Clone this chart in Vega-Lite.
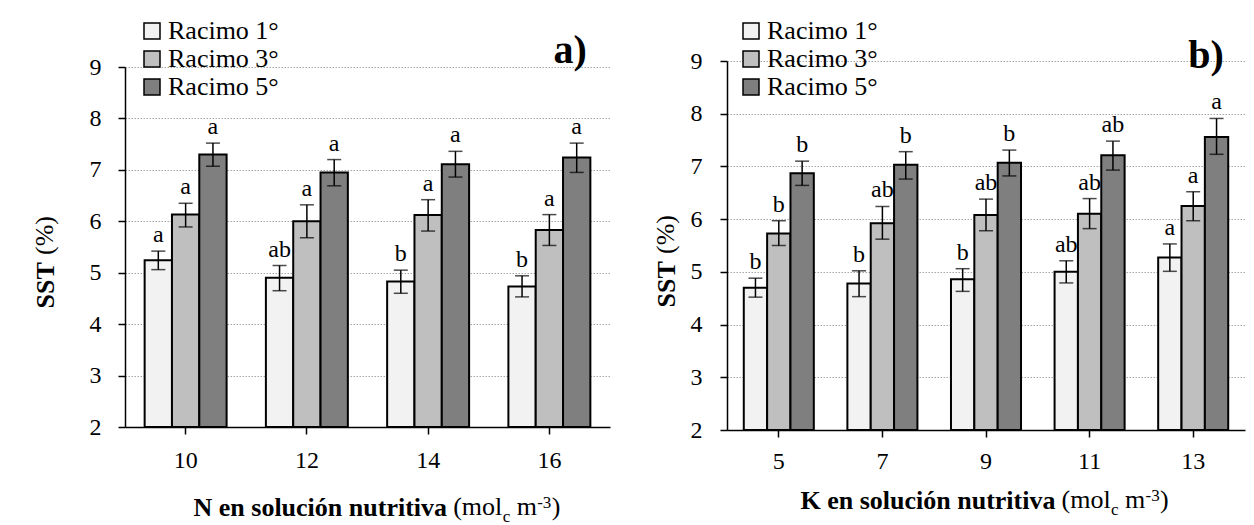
{
  "$schema": "https://vega.github.io/schema/vega-lite/v6.json",
  "background": "white",
  "padding": {"left": 31, "top": 18, "right": 5, "bottom": 0},
  "spacing": 42,
  "config": {
    "font": "Liberation Serif",
    "view": {"stroke": null},
    "axis": {"labelColor": "#000", "titleColor": "#000", "domainColor": "#000", "tickColor": "#000", "labelFontSize": 24, "titleFontSize": 26, "titleFontWeight": "bold", "tickSize": 7, "tickWidth": 1.5, "domainWidth": 1.5, "labelFont": "Liberation Serif", "titleFont": "Liberation Serif"},
    "legend": {"orient": "none", "labelFont": "Liberation Serif", "labelFontSize": 26, "labelColor": "#000", "symbolType": "square", "symbolSize": 256, "symbolStrokeColor": "#000", "symbolStrokeWidth": 1.5, "symbolOpacity": 1, "labelOffset": 3, "rowPadding": 2, "padding": 0, "labelLimit": 300}
  },
  "resolve": {"scale": {"x": "independent", "y": "independent", "fill": "independent", "xOffset": "independent"}},
  "datasets": {
    "a": [
      {"N": "10", "racimo": "Racimo 1°", "sst": 5.24, "lo": 5.06, "hi": 5.42, "letra": "a"},
      {"N": "10", "racimo": "Racimo 3°", "sst": 6.13, "lo": 5.89, "hi": 6.35, "letra": "a"},
      {"N": "10", "racimo": "Racimo 5°", "sst": 7.30, "lo": 7.07, "hi": 7.52, "letra": "a"},
      {"N": "12", "racimo": "Racimo 1°", "sst": 4.90, "lo": 4.65, "hi": 5.14, "letra": "ab"},
      {"N": "12", "racimo": "Racimo 3°", "sst": 6.00, "lo": 5.68, "hi": 6.32, "letra": "a"},
      {"N": "12", "racimo": "Racimo 5°", "sst": 6.95, "lo": 6.69, "hi": 7.20, "letra": "a"},
      {"N": "14", "racimo": "Racimo 1°", "sst": 4.83, "lo": 4.60, "hi": 5.05, "letra": "b"},
      {"N": "14", "racimo": "Racimo 3°", "sst": 6.12, "lo": 5.81, "hi": 6.42, "letra": "a"},
      {"N": "14", "racimo": "Racimo 5°", "sst": 7.11, "lo": 6.86, "hi": 7.36, "letra": "a"},
      {"N": "16", "racimo": "Racimo 1°", "sst": 4.73, "lo": 4.53, "hi": 4.94, "letra": "b"},
      {"N": "16", "racimo": "Racimo 3°", "sst": 5.83, "lo": 5.53, "hi": 6.13, "letra": "a"},
      {"N": "16", "racimo": "Racimo 5°", "sst": 7.24, "lo": 6.95, "hi": 7.52, "letra": "a"}
    ],
    "b": [
      {"K": "5", "racimo": "Racimo 1°", "sst": 4.70, "lo": 4.52, "hi": 4.88, "letra": "b"},
      {"K": "5", "racimo": "Racimo 3°", "sst": 5.73, "lo": 5.50, "hi": 5.97, "letra": "b"},
      {"K": "5", "racimo": "Racimo 5°", "sst": 6.87, "lo": 6.64, "hi": 7.10, "letra": "b"},
      {"K": "7", "racimo": "Racimo 1°", "sst": 4.78, "lo": 4.53, "hi": 5.02, "letra": "b"},
      {"K": "7", "racimo": "Racimo 3°", "sst": 5.92, "lo": 5.62, "hi": 6.24, "letra": "ab"},
      {"K": "7", "racimo": "Racimo 5°", "sst": 7.03, "lo": 6.76, "hi": 7.28, "letra": "b"},
      {"K": "9", "racimo": "Racimo 1°", "sst": 4.86, "lo": 4.63, "hi": 5.06, "letra": "b"},
      {"K": "9", "racimo": "Racimo 3°", "sst": 6.08, "lo": 5.78, "hi": 6.38, "letra": "ab"},
      {"K": "9", "racimo": "Racimo 5°", "sst": 7.07, "lo": 6.82, "hi": 7.31, "letra": "b"},
      {"K": "11", "racimo": "Racimo 1°", "sst": 5.00, "lo": 4.79, "hi": 5.21, "letra": "ab"},
      {"K": "11", "racimo": "Racimo 3°", "sst": 6.10, "lo": 5.82, "hi": 6.39, "letra": "ab"},
      {"K": "11", "racimo": "Racimo 5°", "sst": 7.21, "lo": 6.93, "hi": 7.48, "letra": "ab"},
      {"K": "13", "racimo": "Racimo 1°", "sst": 5.27, "lo": 5.01, "hi": 5.53, "letra": "a"},
      {"K": "13", "racimo": "Racimo 3°", "sst": 6.25, "lo": 5.97, "hi": 6.52, "letra": "a"},
      {"K": "13", "racimo": "Racimo 5°", "sst": 7.56, "lo": 7.23, "hi": 7.91, "letra": "a"}
    ]
  },
  "hconcat": [
    {
      "width": 485,
      "height": 360,
      "data": {"name": "a"},
      "layer": [
        {
          "mark": {"type": "bar", "stroke": "#000", "strokeWidth": 2},
          "encoding": {
            "x": {"field": "N", "type": "nominal", "scale": {"domain": ["10", "12", "14", "16"], "paddingInner": 0.324, "paddingOuter": 0.162},
                  "axis": {"title": "N en solución nutritiva", "labelAngle": 0, "labelPadding": 14, "titleAlign": "left", "titleX": 68, "titleY": 88, "titleBaseline": "alphabetic", "bandPosition": 0.5, "grid": false}},
            "xOffset": {"field": "racimo", "type": "nominal", "scale": {"domain": ["Racimo 1°", "Racimo 3°", "Racimo 5°"], "paddingInner": 0, "paddingOuter": 0}},
            "y": {"field": "sst", "type": "quantitative", "scale": {"domain": [2, 9], "nice": false, "zero": false},
                  "axis": {"title": "SST", "values": [2, 3, 4, 5, 6, 7, 8, 9], "format": "d", "grid": true, "gridDash": [1.5, 1.5], "gridColor": "#a6a6a6", "gridWidth": 1, "labelPadding": 17, "titleAngle": 270, "titleAlign": "left", "titleBaseline": "alphabetic", "titleX": -72, "titleY": 241}},
            "y2": {"datum": 2},
            "fill": {"field": "racimo", "type": "nominal", "scale": {"domain": ["Racimo 1°", "Racimo 3°", "Racimo 5°"], "range": ["#f2f2f2", "#bfbfbf", "#7f7f7f"]},
                     "legend": {"title": null, "legendX": 14, "legendY": -49, "labelFont": "Liberation Serif", "labelFontSize": 26}}
          }
        },
        {
          "mark": {"type": "rule", "color": "#000", "strokeWidth": 1.5},
          "encoding": {
            "x": {"field": "N", "type": "nominal"},
            "xOffset": {"field": "racimo", "type": "nominal"},
            "y": {"field": "lo", "type": "quantitative"},
            "y2": {"field": "hi"}
          }
        },
        {
          "mark": {"type": "tick", "color": "#000", "thickness": 1.5, "size": 14},
          "encoding": {
            "x": {"field": "N", "type": "nominal"},
            "xOffset": {"field": "racimo", "type": "nominal"},
            "y": {"field": "lo", "type": "quantitative"}
          }
        },
        {
          "mark": {"type": "tick", "color": "#000", "thickness": 1.5, "size": 14},
          "encoding": {
            "x": {"field": "N", "type": "nominal"},
            "xOffset": {"field": "racimo", "type": "nominal"},
            "y": {"field": "hi", "type": "quantitative"}
          }
        },
        {
          "mark": {"type": "text", "baseline": "alphabetic", "dy": -9, "fontSize": 24, "color": "#000"},
          "encoding": {
            "x": {"field": "N", "type": "nominal"},
            "xOffset": {"field": "racimo", "type": "nominal"},
            "y": {"field": "hi", "type": "quantitative"},
            "text": {"field": "letra"}
          }
        },
        {
          "data": {"values": [{}]},
          "mark": {"type": "text", "text": "a)", "align": "left", "baseline": "alphabetic", "dx": 4, "dy": -4, "fontSize": 40, "fontWeight": "bold", "color": "#000"},
          "encoding": {"x": {"datum": "16"}, "y": {"datum": 9}}
        },
        {
          "data": {"values": [{}]},
          "mark": {"type": "text", "text": "(%)", "angle": 270, "align": "left", "baseline": "alphabetic", "dx": 172, "dy": -133, "fontSize": 26, "color": "#000"},
          "encoding": {"x": {"datum": "10"}, "y": {"datum": 2}}
        },
        {
          "data": {"values": [{}]},
          "mark": {"type": "text", "text": "(mol", "align": "left", "baseline": "alphabetic", "dx": 25, "dy": 88, "fontSize": 26, "color": "#000"},
          "encoding": {"x": {"datum": "14"}, "y": {"datum": 2}}
        },
        {
          "data": {"values": [{}]},
          "mark": {"type": "text", "text": "c", "align": "left", "baseline": "alphabetic", "dx": 74.5, "dy": 95, "fontSize": 17, "color": "#000"},
          "encoding": {"x": {"datum": "14"}, "y": {"datum": 2}}
        },
        {
          "data": {"values": [{}]},
          "mark": {"type": "text", "text": "m", "align": "left", "baseline": "alphabetic", "dx": 88.5, "dy": 88, "fontSize": 26, "color": "#000"},
          "encoding": {"x": {"datum": "14"}, "y": {"datum": 2}}
        },
        {
          "data": {"values": [{}]},
          "mark": {"type": "text", "text": "-3", "align": "left", "baseline": "alphabetic", "dx": 109, "dy": 81, "fontSize": 17, "color": "#000"},
          "encoding": {"x": {"datum": "14"}, "y": {"datum": 2}}
        },
        {
          "data": {"values": [{}]},
          "mark": {"type": "text", "text": ")", "align": "left", "baseline": "alphabetic", "dx": 123.5, "dy": 88, "fontSize": 26, "color": "#000"},
          "encoding": {"x": {"datum": "14"}, "y": {"datum": 2}}
        }
      ]
    },
    {
      "width": 518,
      "height": 363,
      "data": {"name": "b"},
      "layer": [
        {
          "mark": {"type": "bar", "stroke": "#000", "strokeWidth": 2},
          "encoding": {
            "x": {"field": "K", "type": "nominal", "scale": {"domain": ["5", "7", "9", "11", "13"], "paddingInner": 0.324, "paddingOuter": 0.162},
                  "axis": {"title": "K en solución nutritiva", "labelAngle": 0, "labelPadding": 12, "titleAlign": "left", "titleX": 73, "titleY": 78, "titleBaseline": "alphabetic", "bandPosition": 0.5, "grid": false}},
            "xOffset": {"field": "racimo", "type": "nominal", "scale": {"domain": ["Racimo 1°", "Racimo 3°", "Racimo 5°"], "paddingInner": 0, "paddingOuter": 0}},
            "y": {"field": "sst", "type": "quantitative", "scale": {"domain": [2, 9], "nice": false, "zero": false, "range": [363, -6]},
                  "axis": {"title": "SST", "values": [2, 3, 4, 5, 6, 7, 8, 9], "format": "d", "grid": true, "gridDash": [1.5, 1.5], "gridColor": "#a6a6a6", "gridWidth": 1, "labelPadding": 18, "titleAngle": 270, "titleAlign": "left", "titleBaseline": "alphabetic", "titleX": -53, "titleY": 240}},
            "y2": {"datum": 2},
            "fill": {"field": "racimo", "type": "nominal", "scale": {"domain": ["Racimo 1°", "Racimo 3°", "Racimo 5°"], "range": ["#f2f2f2", "#bfbfbf", "#7f7f7f"]},
                     "legend": {"title": null, "legendX": 11, "legendY": -49, "labelFont": "Liberation Serif", "labelFontSize": 26}}
          }
        },
        {
          "mark": {"type": "rule", "color": "#000", "strokeWidth": 1.5},
          "encoding": {
            "x": {"field": "K", "type": "nominal"},
            "xOffset": {"field": "racimo", "type": "nominal"},
            "y": {"field": "lo", "type": "quantitative"},
            "y2": {"field": "hi"}
          }
        },
        {
          "mark": {"type": "tick", "color": "#000", "thickness": 1.5, "size": 14},
          "encoding": {
            "x": {"field": "K", "type": "nominal"},
            "xOffset": {"field": "racimo", "type": "nominal"},
            "y": {"field": "lo", "type": "quantitative"}
          }
        },
        {
          "mark": {"type": "tick", "color": "#000", "thickness": 1.5, "size": 14},
          "encoding": {
            "x": {"field": "K", "type": "nominal"},
            "xOffset": {"field": "racimo", "type": "nominal"},
            "y": {"field": "hi", "type": "quantitative"}
          }
        },
        {
          "mark": {"type": "text", "baseline": "alphabetic", "dy": -9, "fontSize": 24, "color": "#000"},
          "encoding": {
            "x": {"field": "K", "type": "nominal"},
            "xOffset": {"field": "racimo", "type": "nominal"},
            "y": {"field": "hi", "type": "quantitative"},
            "text": {"field": "letra"}
          }
        },
        {
          "data": {"values": [{}]},
          "mark": {"type": "text", "text": "b)", "align": "left", "baseline": "alphabetic", "dx": -5, "dy": 7, "fontSize": 40, "fontWeight": "bold", "color": "#000"},
          "encoding": {"x": {"datum": "13"}, "y": {"datum": 9}}
        },
        {
          "data": {"values": [{}]},
          "mark": {"type": "text", "text": "(%)", "angle": 270, "align": "left", "baseline": "alphabetic", "dx": 176, "dy": -105, "fontSize": 26, "color": "#000"},
          "encoding": {"x": {"datum": "5"}, "y": {"datum": 2}}
        },
        {
          "data": {"values": [{}]},
          "mark": {"type": "text", "text": "(mol", "align": "left", "baseline": "alphabetic", "dx": -28, "dy": 78, "fontSize": 26, "color": "#000"},
          "encoding": {"x": {"datum": "11"}, "y": {"datum": 2}}
        },
        {
          "data": {"values": [{}]},
          "mark": {"type": "text", "text": "c", "align": "left", "baseline": "alphabetic", "dx": 21.5, "dy": 85, "fontSize": 17, "color": "#000"},
          "encoding": {"x": {"datum": "11"}, "y": {"datum": 2}}
        },
        {
          "data": {"values": [{}]},
          "mark": {"type": "text", "text": "m", "align": "left", "baseline": "alphabetic", "dx": 35.5, "dy": 78, "fontSize": 26, "color": "#000"},
          "encoding": {"x": {"datum": "11"}, "y": {"datum": 2}}
        },
        {
          "data": {"values": [{}]},
          "mark": {"type": "text", "text": "-3", "align": "left", "baseline": "alphabetic", "dx": 56, "dy": 71, "fontSize": 17, "color": "#000"},
          "encoding": {"x": {"datum": "11"}, "y": {"datum": 2}}
        },
        {
          "data": {"values": [{}]},
          "mark": {"type": "text", "text": ")", "align": "left", "baseline": "alphabetic", "dx": 70.5, "dy": 78, "fontSize": 26, "color": "#000"},
          "encoding": {"x": {"datum": "11"}, "y": {"datum": 2}}
        }
      ]
    }
  ]
}
